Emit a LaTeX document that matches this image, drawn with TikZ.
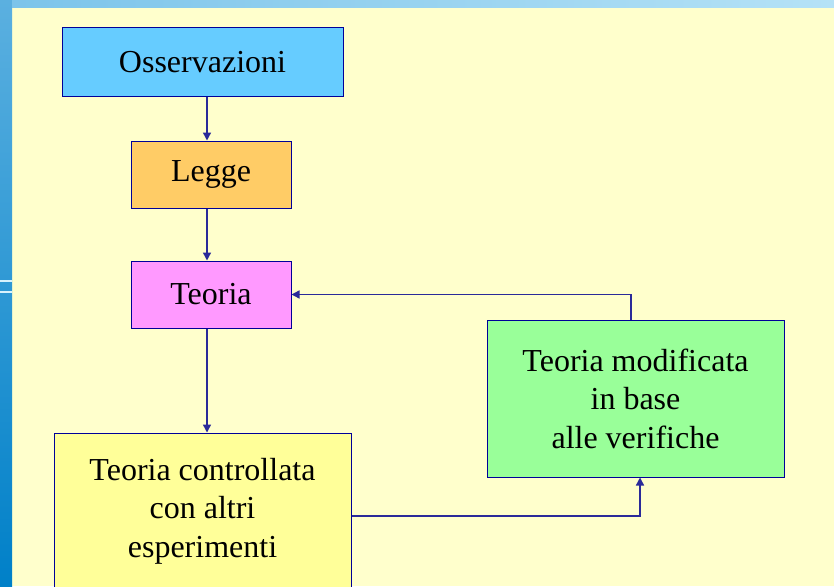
\documentclass[tikz,border=0pt]{standalone}
\usepackage{fontspec}
\setmainfont{Liberation Serif}
\usetikzlibrary{arrows.meta}

\definecolor{cream}{HTML}{FFFFCC}
\definecolor{boxline}{HTML}{000099}
\definecolor{linkcol}{HTML}{2A2A99}
\definecolor{obsblue}{HTML}{66CCFF}
\definecolor{leggeor}{HTML}{FFCC66}
\definecolor{teorpink}{HTML}{FF99FF}
\definecolor{contryel}{HTML}{FFFF99}
\definecolor{modgreen}{HTML}{99FF99}
\definecolor{striptop}{HTML}{5BB0E0}
\definecolor{stripbot}{HTML}{0080C8}
\definecolor{bandleft}{HTML}{7CC4EA}
\definecolor{bandright}{HTML}{B5E2F6}

\begin{document}
\begin{tikzpicture}[x=1pt,y=1pt,
	box/.style={draw=boxline,line width=1pt,align=center,inner sep=0pt,
		font=\fontsize{32}{38.4}\selectfont},
	link/.style={draw=linkcol,line width=1.4pt,-{Triangle[length=8pt,width=8pt]}}]
		
		\useasboundingbox (0,0) rectangle (834,-586);
		\fill[cream] (0,0) rectangle (834,-586);
		\shade[top color=striptop,bottom color=stripbot] (0,0) rectangle (12,-586);
		\shade[left color=bandleft,right color=bandright] (12,0) rectangle (834,-8);
		\draw[white!85!cyan,line width=2pt](0,-281)--(12,-281);
		\draw[white!85!cyan,line width=2pt](0,-292)--(12,-292);
		
		\coordinate (col) at (207,0);
		\coordinate (up) at (631,0);
		\coordinate (back) at (640,-516);
		
		\node[box,fill=obsblue,minimum width=281pt,minimum height=68pt] (oss) at (202.5,-62) {Osservazioni};
		\node[box,fill=leggeor,minimum width=160pt,minimum height=67pt] (legge) at (211,-174.5) {Legge};
		\node[box,fill=teorpink,minimum width=160pt,minimum height=67pt] (teoria) at (211,-294.5) {Teoria};
		\node[box,fill=contryel,minimum width=297pt,minimum height=156pt] (contr) at (202.5,-511) {Teoria controllata\\con altri\\esperimenti};
		\node[box,fill=modgreen,minimum width=297pt,minimum height=157pt] (modif) at (635.5,-398.5) {Teoria modificata\\in base\\alle verifiche};
		
		\draw[link](oss.south -| col)--(legge.north -| col);
		\draw[link](legge.south -| col)--(teoria.north -| col);
		\draw[link](teoria.south -| col)--(contr.north -| col);
		\draw[link](modif.north -| up)|-(teoria.east);
		\draw[link](contr.east |- back)-|(modif.south -| back);
		
\end{tikzpicture}
\end{document}
